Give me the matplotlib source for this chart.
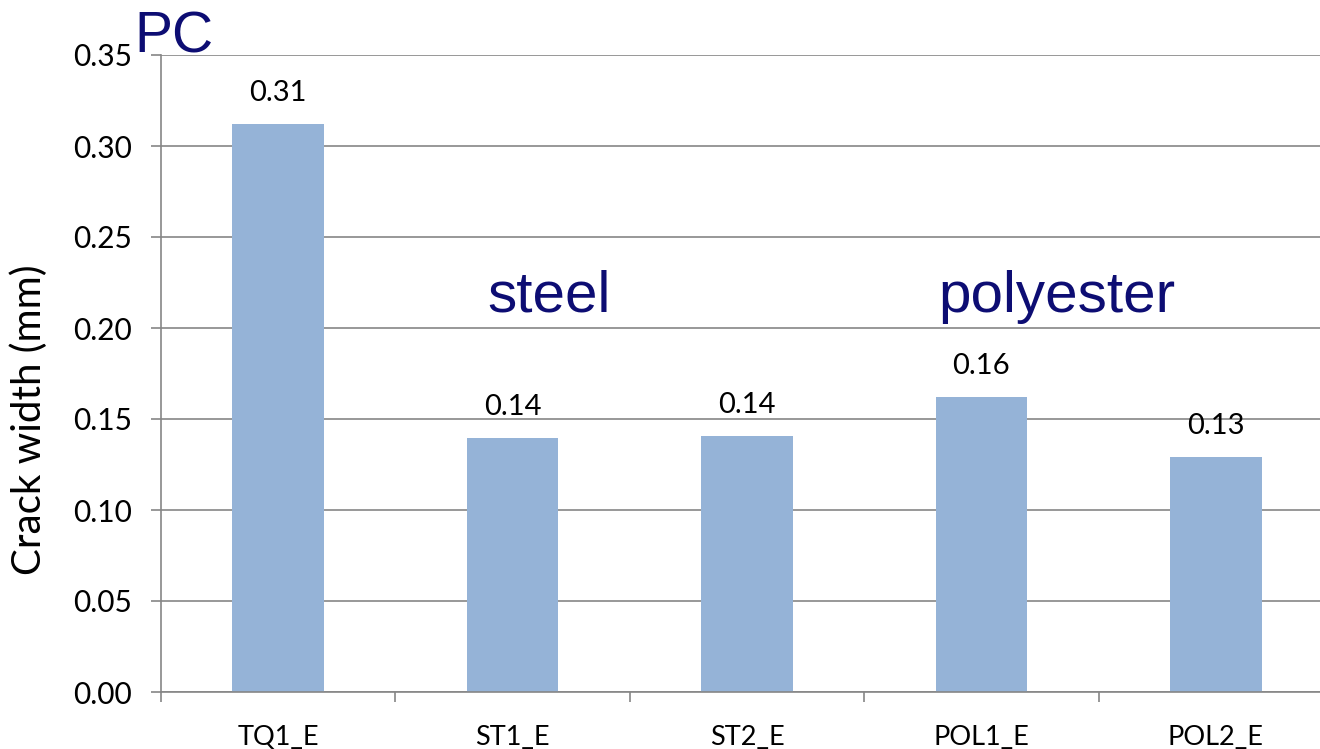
import matplotlib.pyplot as plt
import numpy as np

categories = ["TQ1_E", "ST1_E", "ST2_E", "POL1_E", "POL2_E"]
crack_width = [0.312, 0.1395, 0.1405, 0.162, 0.129]
value_labels = ["0.31", "0.14", "0.14", "0.16", "0.13"]
y_ticks = [0.00, 0.05, 0.10, 0.15, 0.20, 0.25, 0.30, 0.35]


def main():
    fig = plt.figure(figsize=(13.2, 7.49), dpi=100)
    ax = fig.add_axes([161 / 1320, 57 / 749, 1172 / 1320, 637 / 749])

    x = np.arange(len(categories))
    ax.bar(x, crack_width, width=0.39, color="#95B3D7", zorder=2)

    for xi, v, lab in zip(x, crack_width, value_labels):
        ax.text(xi, v + 0.010, lab, ha="center", va="bottom",
                fontsize=21, family="Lato")

    ax.set_xlim(-0.5, len(categories) - 0.5)
    ax.set_ylim(0, 0.35)
    ax.set_yticks(y_ticks)
    ax.set_yticklabels([f"{t:.2f}" for t in y_ticks], family="Lato", fontsize=21.5)
    ax.set_xticks(x)
    ax.set_xticklabels(categories, family="Lato", fontsize=19.5)
    ax.set_xticks(np.arange(-0.5, len(categories)), minor=True)
    ax.tick_params(axis="x", which="major", length=0, pad=24)
    ax.tick_params(axis="x", which="minor", length=7, color="#868686", width=1.2)
    ax.tick_params(axis="y", length=7, color="#868686", width=1.2, pad=14)

    ax.grid(axis="y", color="#868686", linewidth=1.2, zorder=0)
    ax.set_axisbelow(True)
    for s in ["top", "right"]:
        ax.spines[s].set_visible(False)
    for s in ["left", "bottom"]:
        ax.spines[s].set_color("#868686")
        ax.spines[s].set_linewidth(1.2)

    ax.set_ylabel("Crack width (mm)", family="Lato", fontsize=29, va="center")
    ax.yaxis.set_label_coords(-0.1125, 0.427)

    navy = "#0D0D73"
    ax.text(-0.614, 0.3516, "PC", ha="left", va="baseline", fontsize=41,
            family="Liberation Sans", color=navy, clip_on=False)
    ax.text(1.156, 0.209, "steel", ha="center", va="baseline", fontsize=42,
            family="Liberation Sans", color=navy)
    ax.text(3.32, 0.209, "polyester", ha="center", va="baseline", fontsize=42,
            family="Liberation Sans", color=navy)

    fig.savefig("out.png", dpi=100)


if __name__ == "__main__":
    main()
